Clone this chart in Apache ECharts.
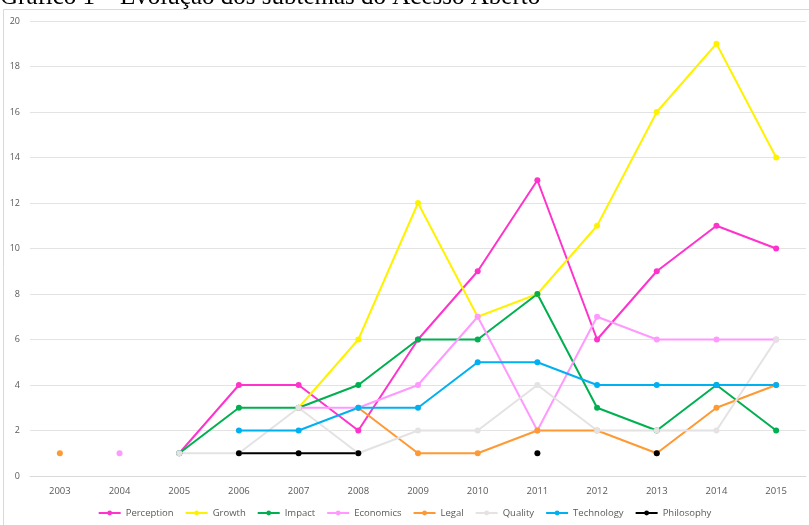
<!DOCTYPE html>
<html>
<head>
<meta charset="utf-8">
<script src="https://cdn.jsdelivr.net/npm/echarts@6/dist/echarts.min.js"></script>
<style>
  html, body { margin: 0; padding: 0; background: #fff; }
  #chart { width: 809px; height: 525px; }
</style>
</head>
<body>
<div id="chart"></div>
<script>
// anos
const years = ['2003','2004','2005','2006','2007','2008','2009','2010','2011','2012','2013','2014','2015'];

// subtemas (null = sem valor)
const perception = [null, null, 1, 4, 4, 2, 6, 9, 13, 6, 9, 11, 10];
const growth     = [null, null, null, null, 3, 6, 12, 7, 8, 11, 16, 19, 14];
const impact     = [null, null, 1, 3, 3, 4, 6, 6, 8, 3, 2, 4, 2];
const economics  = [null, 1, null, null, 3, 3, 4, 7, 2, 7, 6, 6, 6];
const legal      = [1, null, null, null, null, 3, 1, 1, 2, 2, 1, 3, 4];
const quality    = [null, null, 1, 1, 3, 1, 2, 2, 4, 2, 2, 2, 6];
const technology = [null, null, null, 2, 2, 3, 3, 5, 5, 4, 4, 4, 4];
const philosophy = [null, null, null, 1, 1, 1, null, null, 1, null, 1, null, null];

const seriesNames = ['Perception','Growth','Impact','Economics','Legal','Quality','Technology','Philosophy'];
const seriesData = [perception, growth, impact, economics, legal, quality, technology, philosophy];
const colors = ['#FF33CC','#FFF200','#00B050','#FF99FF','#FF9933','#E4E2E2','#00B0F0','#000000'];

const chart = echarts.init(document.getElementById('chart'));

const series = seriesNames.map((name, i) => ({
  name: name,
  type: 'line',
  data: seriesData[i],
  color: colors[i],
  symbol: 'circle',
  symbolSize: 6,
  showAllSymbol: true,
  connectNulls: false,
  lineStyle: { width: 2 },
  emphasis: { disabled: true }
}));

const option = {
  animation: false,
  textStyle: { fontFamily: 'Open Sans' },
  graphic: [
    {
      type: 'rect',
      shape: { x: 3.5, y: 9.5, width: 830, height: 540 },
      style: { fill: 'none', stroke: '#d9d9d9', lineWidth: 1 },
      z: -1
    },
    {
      type: 'text',
      x: 0,
      y: -15.5,
      style: {
        text: 'Gráfico 1 – Evolução dos subtemas do Acesso Aberto',
        font: '25px "Liberation Serif"',
        fill: '#000'
      }
    }
  ],
  grid: { left: 30, right: 3, top: 21, bottom: 49 },
  legend: {
    data: seriesNames,
    bottom: 2,
    left: 'center',
    itemWidth: 22,
    itemHeight: 6,
    itemGap: 11,
    textStyle: { fontSize: 9.5, color: '#595959', fontFamily: 'Open Sans' }
  },
  xAxis: {
    type: 'category',
    data: years,
    boundaryGap: true,
    axisLine: { lineStyle: { color: '#d9d9d9' } },
    axisTick: { show: false },
    axisLabel: { color: '#595959', fontSize: 9.5, margin: 10 }
  },
  yAxis: {
    type: 'value',
    min: 0,
    max: 20,
    interval: 2,
    axisLine: { show: false },
    axisTick: { show: false },
    axisLabel: { color: '#595959', fontSize: 9, margin: 10 },
    splitLine: { lineStyle: { color: '#e3e3e3' } }
  },
  series: series
};

chart.setOption(option);
</script>
</body>
</html>
